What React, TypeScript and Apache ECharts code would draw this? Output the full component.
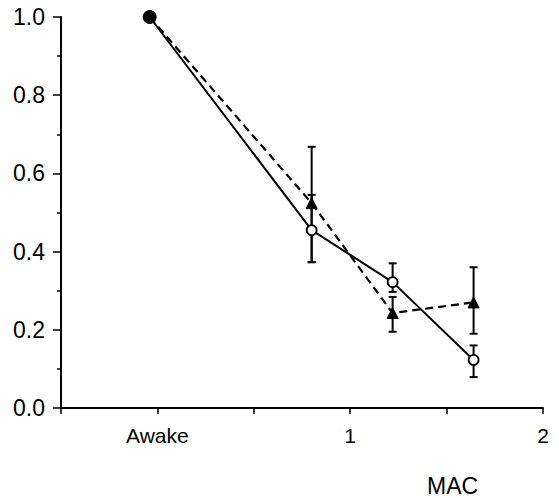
import React, { useEffect, useRef } from "react";
import * as echarts from "echarts";

const xTickLabels: Record<string, string> = { "0": "Awake", "1": "1", "2": "2" };
const yTickValues = [0, 0.2, 0.4, 0.6, 0.8, 1.0];
const xValues = [-0.04, 0.8, 1.22, 1.64];
const openMean = [1.0, 0.455, 0.322, 0.123];
const openLow = [null, 0.373, 0.297, 0.079];
const openHigh = [null, 0.545, 0.37, 0.16];
const triMean = [1.0, 0.524, 0.243, 0.27];
const triLow = [null, 0.373, 0.195, 0.19];
const triHigh = [null, 0.668, 0.284, 0.36];
const xAxisName = "MAC";

const FONT = "'Liberation Sans', Arial, Helvetica, sans-serif";

function errData(lo: (number | null)[], hi: (number | null)[]) {
  const out: number[][] = [];
  xValues.forEach((x, i) => {
    const l = lo[i];
    const h = hi[i];
    if (l != null && h != null) out.push([x, l, h]);
  });
  return out;
}

function lineData(means: number[]) {
  return xValues.map((x, i) => {
    if (i === 0) {
      return {
        value: [x, means[i]],
        symbol: "circle",
        symbolSize: 12,
        itemStyle: { color: "#000", borderColor: "#000" },
      };
    }
    return { value: [x, means[i]] };
  });
}

const renderErr = (params: any, api: any) => {
  const x = api.value(0);
  const lo = api.value(1);
  const hi = api.value(2);
  const pLo = api.coord([x, lo]);
  const pHi = api.coord([x, hi]);
  const w = 4;
  const style = { stroke: "#000", lineWidth: 2 };
  return {
    type: "group",
    children: [
      { type: "line", shape: { x1: pLo[0], y1: pLo[1], x2: pHi[0], y2: pHi[1] }, style },
      { type: "line", shape: { x1: pLo[0] - w, y1: pLo[1], x2: pLo[0] + w, y2: pLo[1] }, style },
      { type: "line", shape: { x1: pHi[0] - w, y1: pHi[1], x2: pHi[0] + w, y2: pHi[1] }, style },
    ],
  };
};

export default function App() {
  const ref = useRef<HTMLDivElement>(null);
  useEffect(() => {
    if (!ref.current) return;
    const chart = echarts.init(ref.current, undefined, { renderer: "svg" });
    chart.setOption({
      animation: false,
      backgroundColor: "#fff",
      grid: { left: 61, right: 16, top: 17, bottom: 90 },
      xAxis: {
        type: "value",
        min: -0.5,
        max: 2,
        interval: 0.5,
        axisLine: { show: true, onZero: false, lineStyle: { color: "#000", width: 2 } },
        axisTick: { show: true, length: 6, lineStyle: { color: "#000", width: 1.5 } },
        splitLine: { show: false },
        axisLabel: {
          margin: 17,
          color: "#000",
          fontFamily: FONT,
          fontSize: 21,
          formatter: (v: number) => {
            const key = String(Math.round(v * 100) / 100);
            return xTickLabels[key] || "";
          },
        },
      },
      yAxis: {
        type: "value",
        min: 0,
        max: 1,
        interval: 0.2,
        axisLine: { show: true, onZero: false, lineStyle: { color: "#000", width: 2 } },
        axisTick: { show: true, length: 8, lineStyle: { color: "#000", width: 1.5 } },
        minorTick: { show: true, splitNumber: 2, length: 4, lineStyle: { color: "#000", width: 1.5 } },
        splitLine: { show: false },
        axisLabel: {
          margin: 16,
          color: "#000",
          fontSize: 23,
          fontFamily: FONT,
          formatter: (v: number) => {
            const m = yTickValues.find((t) => Math.abs(t - v) < 1e-6);
            return m == null ? "" : m.toFixed(1);
          },
        },
      },
      graphic: [
        {
          type: "text",
          left: 427,
          top: 474,
          style: { text: xAxisName, fontSize: 23, fontFamily: FONT, fill: "#000" },
        },
      ],
      series: [
        {
          type: "custom",
          renderItem: renderErr,
          data: errData(openLow, openHigh),
          z: 1,
          encode: { x: 0, y: [1, 2] },
        },
        {
          type: "custom",
          renderItem: renderErr,
          data: errData(triLow, triHigh),
          z: 1,
          encode: { x: 0, y: [1, 2] },
        },
        {
          type: "line",
          data: lineData(triMean),
          symbol: "triangle",
          symbolSize: 11,
          z: 3,
          lineStyle: { color: "#000", width: 2.2, type: [8, 5] },
          itemStyle: { color: "#000", borderColor: "#000", borderWidth: 1 },
        },
        {
          type: "line",
          data: lineData(openMean),
          symbol: "circle",
          symbolSize: 10,
          z: 4,
          lineStyle: { color: "#000", width: 2 },
          itemStyle: { color: "#fff", borderColor: "#000", borderWidth: 1.8 },
        },
      ],
    });
    return () => chart.dispose();
  }, []);
  return (
    <div
      ref={ref}
      style={{ position: "fixed", left: 0, top: 0, width: 559, height: 498 }}
    />
  );
}
